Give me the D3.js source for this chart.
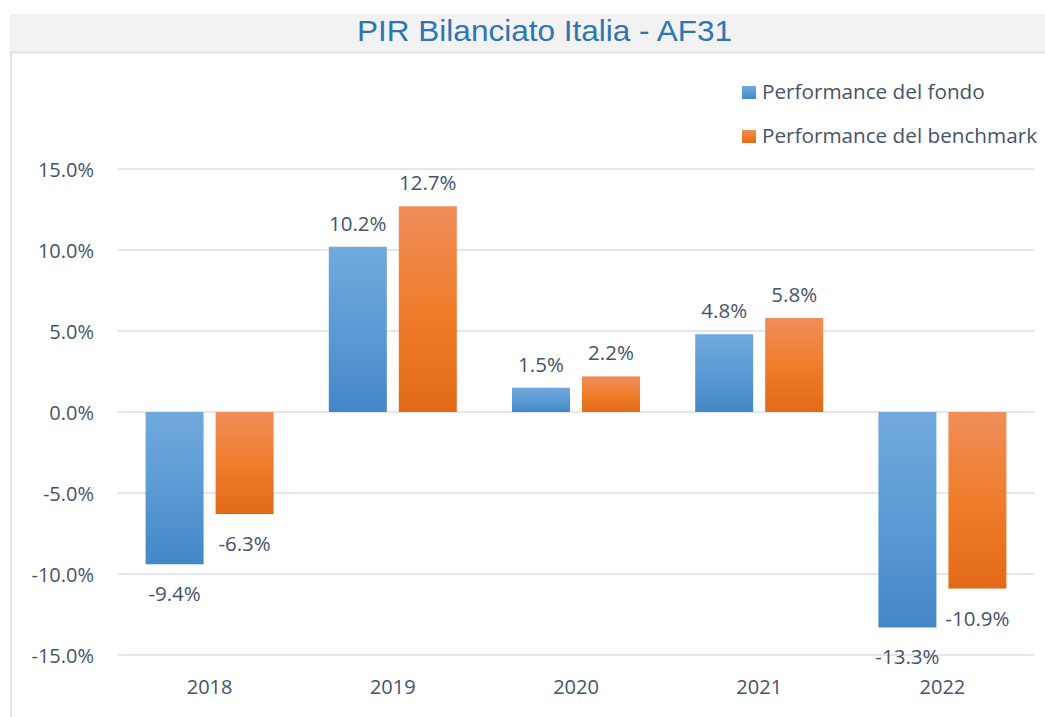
<!DOCTYPE html>
<html>
<head>
<meta charset="utf-8">
<script src="https://cdn.jsdelivr.net/npm/d3@7/dist/d3.min.js"></script>
<style>
  html, body { margin: 0; padding: 0; background: #fff; }
  svg { display: block; }
</style>
</head>
<body>
<div id="chart"></div>
<script>
// chart data
const years = ['2018', '2019', '2020', '2021', '2022'];
const seriesNames = ['Performance del fondo', 'Performance del benchmark'];
const fondo = [-9.4, 10.2, 1.5, 4.8, -13.3];
const benchmark = [-6.3, 12.7, 2.2, 5.8, -10.9];
const yTicks = [-15, -10, -5, 0, 5, 10, 15];
const chartTitle = 'PIR Bilanciato Italia - AF31';

const width = 1045;
const height = 717;
const plot = { left: 118, right: 1034, top: 169, bottom: 655 };
const textColor = '#44546a';
const gridColor = '#dadfe6';
const labelFont = '"Open Sans", "Noto Sans", sans-serif';

// percent with a plain hyphen as minus sign
const pct = d => d3.format('.1f')(d).replace('\u2212', '-') + '%';

const svg = d3.select('#chart').append('svg')
    .attr('width', width)
    .attr('height', height);

// gradients for the bars
const defs = svg.append('defs');
const gradients = [
    { id: 'grad-fondo', stops: ['#72a9dd', '#5b9bd5', '#4487c7'] },
    { id: 'grad-bench', stops: ['#f08d5a', '#ef7d2c', '#e26a17'] }
];
gradients.forEach(g => {
    const lg = defs.append('linearGradient')
        .attr('id', g.id)
        .attr('x1', 0).attr('y1', 0)
        .attr('x2', 0).attr('y2', 1);
    g.stops.forEach((c, i) => {
        lg.append('stop')
            .attr('offset', `${i * 50}%`)
            .attr('stop-color', c);
    });
});

// title band
svg.append('rect')
    .attr('x', 10).attr('y', 14)
    .attr('width', width - 10).attr('height', 38)
    .attr('fill', '#f2f2f2');
svg.append('line')
    .attr('x1', 10).attr('x2', width)
    .attr('y1', 52.5).attr('y2', 52.5)
    .attr('stroke', '#dfe4ea')
    .attr('stroke-width', 2);
svg.append('line')
    .attr('x1', 11).attr('x2', 11)
    .attr('y1', 52).attr('y2', height)
    .attr('stroke', '#dfe4ea')
    .attr('stroke-width', 2);

svg.append('text')
    .attr('x', 357)
    .attr('y', 41)
    .attr('textLength', 375)
    .attr('lengthAdjust', 'spacingAndGlyphs')
    .style('font-family', '"Liberation Sans", Arial, sans-serif')
    .style('font-size', '29px')
    .style('fill', '#2e75b6')
    .text(chartTitle);

// scales
const y = d3.scaleLinear()
    .domain([-15, 15])
    .range([plot.bottom, plot.top]);

const x0 = d3.scaleBand()
    .domain(years)
    .range([plot.left, plot.right])
    .padding(0);

const innerPad = 27.6;
const x1 = d3.scaleBand()
    .domain(seriesNames)
    .range([innerPad, x0.bandwidth() - innerPad])
    .paddingInner(0.1714)
    .paddingOuter(0);

// gridlines
svg.append('g')
    .attr('class', 'grid')
    .selectAll('line')
    .data(yTicks)
    .enter()
    .append('line')
    .attr('x1', plot.left)
    .attr('x2', plot.right)
    .attr('y1', d => y(d))
    .attr('y2', d => y(d))
    .attr('stroke', gridColor)
    .attr('stroke-width', 1.5);

// y axis labels
const yAxis = svg.append('g')
    .attr('transform', 'translate(94,0)')
    .call(d3.axisLeft(y).tickValues(yTicks).tickSize(0).tickPadding(0)
        .tickFormat(pct));
yAxis.select('.domain').remove();
yAxis.selectAll('text')
    .attr('dy', '0.35em')
    .style('font-family', labelFont)
    .style('font-size', '20px')
    .style('fill', textColor);

// x axis labels
const xAxis = svg.append('g')
    .attr('transform', 'translate(0,694)')
    .call(d3.axisBottom(x0).tickSize(0).tickPadding(0));
xAxis.select('.domain').remove();
xAxis.selectAll('text')
    .attr('dy', 0)
    .style('font-family', labelFont)
    .style('font-size', '20px')
    .style('fill', textColor);

// bars
const rows = years.map((yr, i) => ({
    year: yr,
    values: [
        { name: seriesNames[0], value: fondo[i], fill: 'url(#grad-fondo)' },
        { name: seriesNames[1], value: benchmark[i], fill: 'url(#grad-bench)' }
    ]
}));

const groups = svg.append('g')
    .attr('class', 'bars')
    .selectAll('g')
    .data(rows)
    .enter()
    .append('g')
    .attr('transform', d => `translate(${x0(d.year)},0)`);

groups.selectAll('rect')
    .data(d => d.values)
    .enter()
    .append('rect')
    .attr('x', d => x1(d.name))
    .attr('y', d => y(Math.max(0, d.value)))
    .attr('width', x1.bandwidth())
    .attr('height', d => Math.abs(y(d.value) - y(0)))
    .attr('fill', d => d.fill);

groups.selectAll('text')
    .data(d => d.values)
    .enter()
    .append('text')
    .attr('x', d => x1(d.name) + x1.bandwidth() / 2)
    .attr('y', d => d.value >= 0 ? y(d.value) - 16 : y(d.value) + 37)
    .attr('text-anchor', 'middle')
    .style('font-family', labelFont)
    .style('font-size', '20.5px')
    .style('fill', textColor)
    .text(d => pct(d.value));

// legend
const legend = svg.append('g')
    .attr('class', 'legend')
    .selectAll('g')
    .data(seriesNames)
    .enter()
    .append('g')
    .attr('transform', (d, i) => `translate(742,${86 + i * 44})`);

legend.append('rect')
    .attr('width', 14)
    .attr('height', 13)
    .attr('fill', (d, i) => i === 0 ? 'url(#grad-fondo)' : 'url(#grad-bench)');

legend.append('text')
    .attr('x', 20)
    .attr('y', 13)
    .style('font-family', labelFont)
    .style('font-size', '20.7px')
    .style('fill', textColor)
    .text(d => d);
</script>
</body>
</html>
